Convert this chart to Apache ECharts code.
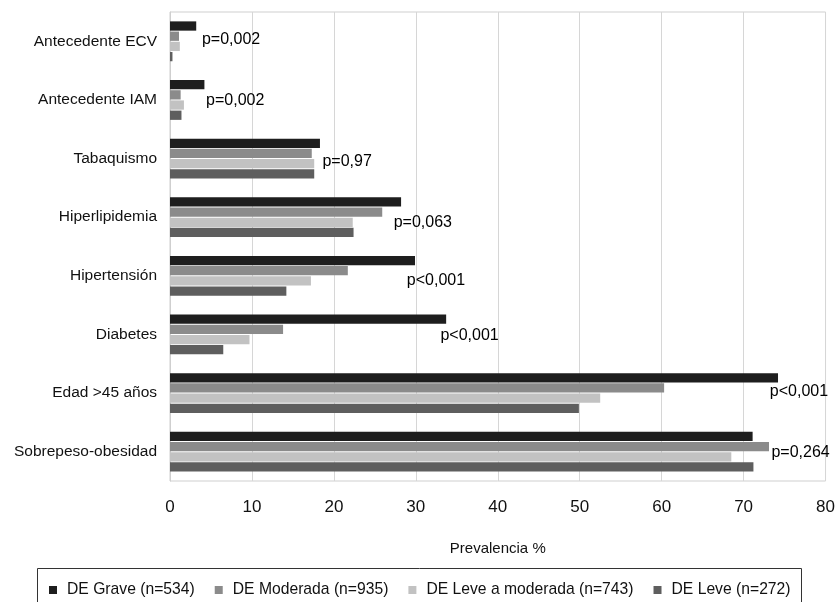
<!DOCTYPE html>
<html>
<head>
<meta charset="utf-8">
<script src="https://cdn.jsdelivr.net/npm/echarts@6/dist/echarts.min.js"></script>
<style>
html,body{margin:0;padding:0;background:#fff;}
#chart{width:838px;height:602px;}
</style>
</head>
<body>
<div id="chart"></div>
<script>
// ---- data ----
const categories = ["Antecedente ECV","Antecedente IAM","Tabaquismo","Hiperlipidemia","Hipertensión","Diabetes","Edad >45 años","Sobrepeso-obesidad"];
const seriesNames = ["DE Grave (n=534)","DE Moderada (n=935)","DE Leve a moderada (n=743)","DE Leve (n=272)"];
const grave      = [3.2, 4.2, 18.3, 28.2, 29.9, 33.7, 74.2, 71.1];
const moderada   = [1.1, 1.3, 17.3, 25.9, 21.7, 13.8, 60.3, 73.1];
const leveMod    = [1.2, 1.7, 17.6, 22.3, 17.2, 9.7, 52.5, 68.5];
const leve       = [0.3, 1.4, 17.6, 22.4, 14.2, 6.5, 49.9, 71.2];
const pValues    = ["p=0,002","p=0,002","p=0,97","p=0,063","p<0,001","p<0,001","p<0,001","p=0,264"];
const xTicks     = [0, 10, 20, 30, 40, 50, 60, 70, 80];

// ---- styling / annotation placement ----
const colors = ["#1e1e1e", "#8b8b8b", "#c2c2c2", "#5e5e5e"];
const pLabelX = [3.9, 4.4, 18.6, 27.3, 28.9, 33.0, 73.2, 73.4];
const pLabelDy = [-2, 1, 3, 5, 5, 1, -1, 1];

const chart = echarts.init(document.getElementById('chart'), null, {renderer: 'canvas'});
const font = "Liberation Sans, Arial, Helvetica, sans-serif";
const allSeries = [grave, moderada, leveMod, leve];

const barSeries = allSeries.map((vals, i) => ({
  name: seriesNames[i],
  type: 'bar',
  data: vals,
  barGap: '10%',
  barCategoryGap: '32%',
  itemStyle: {color: colors[i]},
  silent: true
}));

const labelSeries = {
  name: 'p',
  type: 'scatter',
  symbol: 'circle',
  symbolSize: 0,
  silent: true,
  z: 10,
  itemStyle: {opacity: 1, color: '#000'},
  data: categories.map((c, i) => ({
    value: [pLabelX[i], c],
    label: {offset: [0, pLabelDy[i]]}
  })),
  label: {
    show: true,
    position: 'right',
    distance: 0,
    fontSize: 16,
    fontFamily: font,
    color: '#000',
    opacity: 1,
    textBorderWidth: 0,
    formatter: p => pValues[p.dataIndex]
  }
};

chart.setOption({
  animation: false,
  backgroundColor: '#fff',
  textStyle: {fontFamily: font},
  grid: {left: 170, right: 8, top: 12, bottom: 121, show: true, borderColor: '#cfcfcf', borderWidth: 1},
  xAxis: {
    type: 'value',
    min: xTicks[0],
    max: xTicks[xTicks.length - 1],
    interval: xTicks[1] - xTicks[0],
    name: 'Prevalencia %',
    nameLocation: 'middle',
    nameGap: 60,
    nameTextStyle: {fontSize: 15, color: '#111', fontFamily: font},
    axisLine: {show: false},
    axisTick: {show: false},
    axisLabel: {fontSize: 17, color: '#111', margin: 18, fontFamily: font},
    splitLine: {show: true, lineStyle: {color: '#d6d6d6', width: 1}}
  },
  yAxis: {
    type: 'category',
    inverse: true,
    data: categories,
    axisLine: {show: true, lineStyle: {color: '#cfcfcf'}},
    axisTick: {show: false},
    axisLabel: {fontSize: 15.5, color: '#111', margin: 13, fontFamily: font},
    splitLine: {show: false}
  },
  legend: {
    data: seriesNames,
    left: 44,
    top: 577,
    padding: 5,
    icon: 'rect',
    itemWidth: 8,
    itemHeight: 8,
    itemGap: 20,
    textStyle: {fontSize: 15.7, color: '#111', fontFamily: font, padding: [0, 0, 0, 5]},
    selectedMode: false
  },
  graphic: [{
    type: 'rect',
    shape: {x: 37.5, y: 568.5, width: 764, height: 60},
    style: {fill: 'none', stroke: '#333', lineWidth: 1},
    silent: true,
    z: -1
  }],
  series: [...barSeries, labelSeries]
});
</script>
</body>
</html>
